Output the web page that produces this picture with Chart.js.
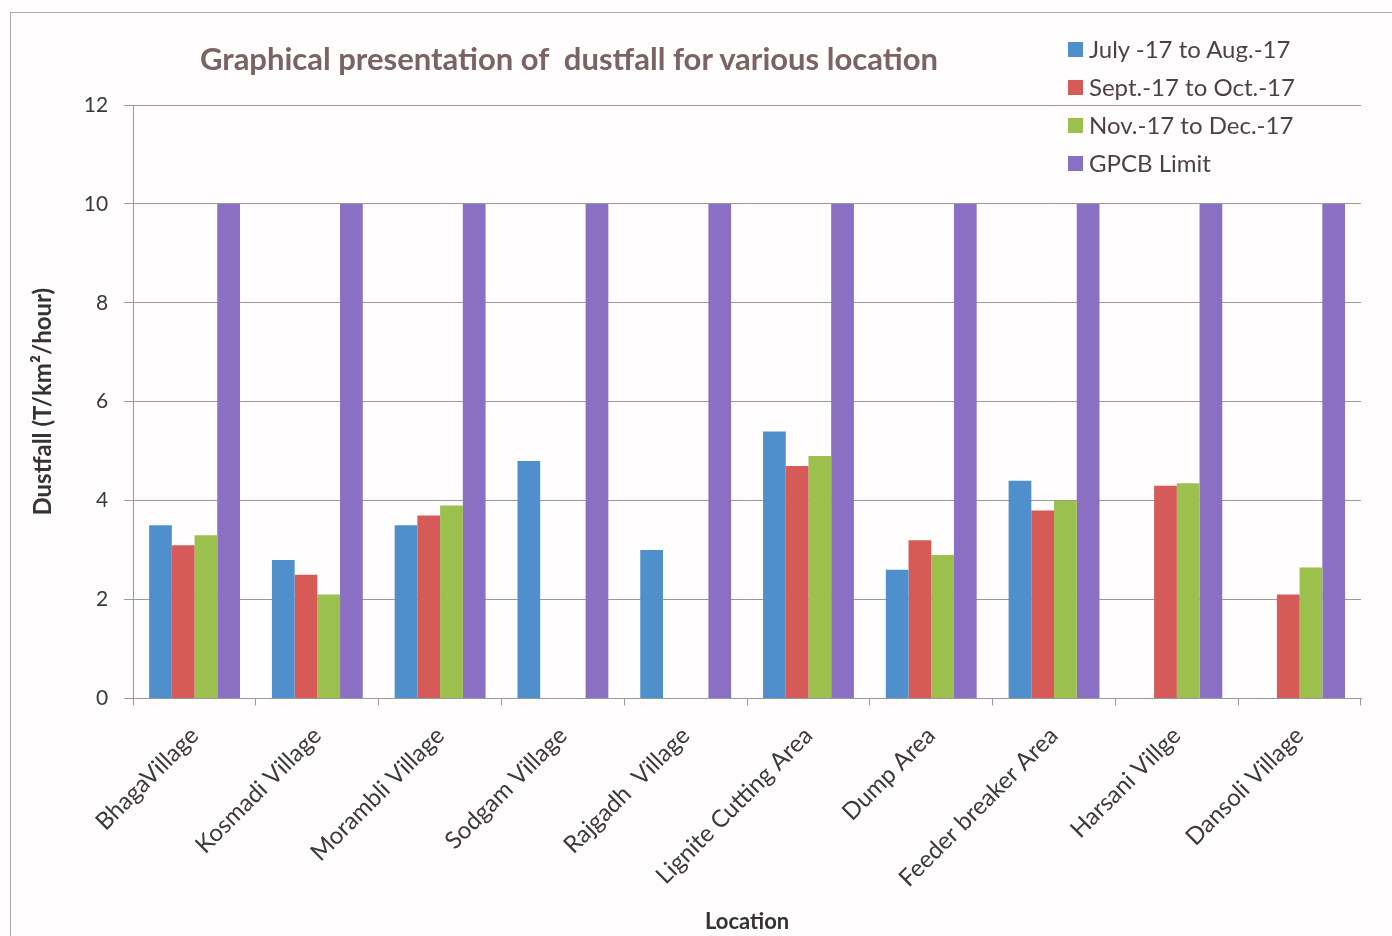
<!DOCTYPE html>
<html>
<head>
<meta charset="utf-8">
<script src="https://cdn.jsdelivr.net/npm/chart.js@4.4.0/dist/chart.umd.min.js"></script>
<style>
    body { margin: 0; background: #fffdfd; }
    #wrap { position: relative; width: 1392px; height: 936px; overflow: hidden; }
    #frame { position: absolute; left: 10px; top: 12px; width: 1400px; height: 940px; border-left: 1px solid #aaa; border-top: 1px solid #aaa; }
    #title { position: absolute; left: 200px; top: 39px; font: bold 31px Lato, sans-serif; color: #7a6363; white-space: nowrap; }
    #legend { position: absolute; left: 1068px; top: 34px; font: 24px Lato, sans-serif; color: #4e3f44; }
    #legend div { height: 38px; line-height: 30px; white-space: nowrap; }
    #legend span { display: inline-block; width: 15px; height: 15px; margin-right: 6px; vertical-align: 1px; }
</style>
</head>
<body>
<div id="wrap">
    <div id="frame"></div>
    <canvas id="dustfallChart" width="1392" height="936"></canvas>
    <div id="title">Graphical presentation of&nbsp; dustfall for various location</div>
    <div id="legend"></div>
</div>
<script>
    const locations = ['BhagaVillage', 'Kosmadi Village', 'Morambli Village', 'Sodgam Village', 'Rajgadh  Village',
        'Lignite Cutting Area', 'Dump Area', 'Feeder breaker Area', 'Harsani Villge', 'Dansoli Village'];
    const seriesNames = ['July -17 to Aug.-17', 'Sept.-17 to Oct.-17', 'Nov.-17 to Dec.-17', 'GPCB Limit'];
    const julyAug = [3.5, 2.8, 3.5, 4.8, 3.0, 5.4, 2.6, 4.4, null, null];
    const septOct = [3.1, 2.5, 3.7, null, null, 4.7, 3.2, 3.8, 4.3, 2.1];
    const novDec = [3.3, 2.1, 3.9, null, null, 4.9, 2.9, 4.0, 4.35, 2.65];
    const gpcbLimit = [10, 10, 10, 10, 10, 10, 10, 10, 10, 10];
    const yTicks = [0, 2, 4, 6, 8, 10, 12];

    const colors = ['#4f90cc', '#d65a58', '#9cc04e', '#8b6fc2'];
    const allSeries = [julyAug, septOct, novDec, gpcbLimit];

    // HTML 범례
    const legendEl = document.getElementById('legend');
    seriesNames.forEach((name, i) => {
        legendEl.innerHTML += '<div><span style="background:' + colors[i] + '"></span>' + name + '</div>';
    });

    new Chart(document.getElementById('dustfallChart'), {
        type: 'bar',
        data: {
            labels: locations,
            datasets: allSeries.map((values, i) => ({
                label: seriesNames[i],
                data: values,
                backgroundColor: colors[i],
                categoryPercentage: 0.74,
                barPercentage: 1.0
            }))
        },
        options: {
            responsive: false,
            animation: false,
            layout: {
                padding: { top: 105, right: 31, left: 29, bottom: 1 }
            },
            plugins: {
                legend: { display: false },
                tooltip: { enabled: false }
            },
            scales: {
                x: {
                    grid: {
                        offset: true,
                        drawOnChartArea: false,
                        drawTicks: true,
                        tickLength: 7,
                        color: '#999'
                    },
                    border: { display: true, color: '#999' },
                    ticks: {
                        minRotation: 45,
                        maxRotation: 45,
                        color: '#3a3a3a',
                        font: { family: 'Lato', size: 24 },
                        padding: 16
                    },
                    title: {
                        display: true,
                        text: 'Location',
                        color: '#333',
                        font: { family: 'Lato', size: 22, weight: 'bold' },
                        padding: { top: 0, bottom: 0 }
                    }
                },
                y: {
                    min: 0,
                    max: 12,
                    afterBuildTicks: axis => { axis.ticks = yTicks.map(v => ({ value: v })); },
                    grid: {
                        color: '#999',
                        drawTicks: true,
                        tickLength: 9
                    },
                    border: { display: true, color: '#999' },
                    ticks: {
                        color: '#3a3a3a',
                        font: { family: 'Lato', size: 21 },
                        padding: 16
                    },
                    title: {
                        display: true,
                        text: 'Dustfall (T/km²/hour)',
                        color: '#333',
                        font: { family: 'Lato', size: 24, weight: 'bold' },
                        padding: { top: 0, bottom: 10 }
                    }
                }
            }
        }
    });
</script>
</body>
</html>
